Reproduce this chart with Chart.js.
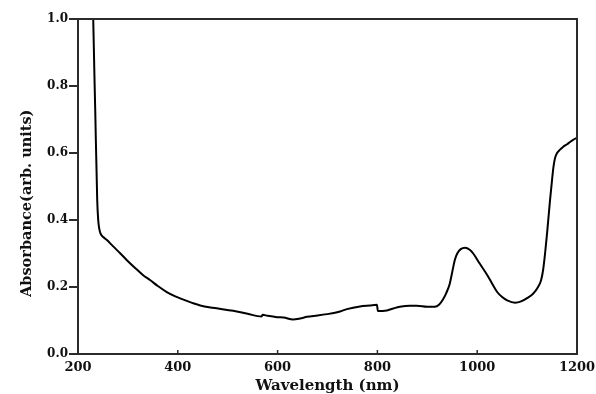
<!DOCTYPE html>
<html>
<head>
<meta charset="utf-8">
<script src="https://cdn.jsdelivr.net/npm/chart.js@4.4.0/dist/chart.umd.min.js"></script>
<style>
  html, body { margin: 0; padding: 0; background: #fff; }
  #wrap { width: 596px; height: 394px; }
</style>
</head>
<body>
<div id="wrap"><canvas id="absChart"></canvas></div>
<script>
// UV-Vis-NIR absorbance spectrum
const wavelengths = [
    229.5, 230.5, 234.5, 238.5, 240.5, 242.5, 245, 250, 258, 270,
    285, 298, 315, 330, 345, 360, 378, 395, 410, 430,
    445, 470, 511, 540, 568, 570, 580, 599, 612, 631,
    645, 659, 680, 699, 715, 725, 739, 765, 785, 799,
    801, 819, 832, 845, 865, 879, 900, 915, 924, 931,
    938, 945, 950, 955, 960, 967, 976, 985, 992, 1005,
    1020, 1030, 1040, 1050, 1060, 1076, 1088, 1100, 1112, 1122,
    1128, 1132, 1136, 1140, 1146, 1150, 1153, 1156, 1160, 1166,
    1172, 1180, 1186, 1193, 1200
];
const absorbance = [
    1.10, 1.00, 0.73, 0.46, 0.40, 0.375, 0.36, 0.35, 0.34, 0.322,
    0.30, 0.28, 0.256, 0.236, 0.22, 0.203, 0.185, 0.172, 0.163, 0.152,
    0.145, 0.138, 0.129, 0.120, 0.112, 0.117, 0.114, 0.110, 0.109, 0.103,
    0.106, 0.111, 0.115, 0.119, 0.123, 0.127, 0.134, 0.142, 0.145, 0.147,
    0.128, 0.130, 0.136, 0.141, 0.144, 0.144, 0.141, 0.141, 0.148, 0.162,
    0.182, 0.21, 0.245, 0.28, 0.30, 0.313, 0.317, 0.311, 0.300, 0.27,
    0.236, 0.21, 0.185, 0.17, 0.160, 0.153, 0.157, 0.167, 0.18, 0.20,
    0.22, 0.25, 0.30, 0.36, 0.46, 0.52, 0.56, 0.585, 0.60, 0.61,
    0.618, 0.626, 0.633, 0.640, 0.645
];
const xTicks = [200, 400, 600, 800, 1000, 1200];
const yTicks = [0.0, 0.2, 0.4, 0.6, 0.8, 1.0];
const yTitle = 'Absorbance(arb. units)';

const axisColor = '#2b2b2b';
const serif = "'DejaVu Serif', serif";

// frame round the plot, short inward ticks on the x axis, rotated y title
const framePlugin = {
    id: 'frame',
    afterDraw(chart) {
        const { ctx, chartArea: a, scales } = chart;
        ctx.save();
        ctx.strokeStyle = axisColor;
        ctx.lineWidth = 2;
        ctx.beginPath();
        ctx.moveTo(a.left, a.top);
        ctx.lineTo(a.right, a.top);
        ctx.lineTo(a.right, a.bottom);
        ctx.stroke();
        ctx.lineWidth = 1.5;
        xTicks.forEach(v => {
            const px = scales.x.getPixelForValue(v);
            if (px <= a.left + 1 || px >= a.right - 1) return;
            ctx.beginPath();
            ctx.moveTo(px, a.bottom);
            ctx.lineTo(px, a.bottom - 4);
            ctx.stroke();
        });

        ctx.translate(27, scales.y.getPixelForValue(0.45));
        ctx.rotate(-Math.PI / 2);
        ctx.fillStyle = '#111';
        ctx.font = "bold 14.5px " + serif;
        ctx.textAlign = 'center';
        ctx.textBaseline = 'middle';
        ctx.fillText(yTitle, 0, 0);
        ctx.restore();
    }
};

new Chart(document.getElementById('absChart'), {
    type: 'line',
    data: {
        datasets: [{
            data: wavelengths.map((w, i) => ({ x: w, y: absorbance[i] })),
            borderColor: '#000',
            borderWidth: 2,
            pointRadius: 0,
            cubicInterpolationMode: 'monotone',
            fill: false
        }]
    },
    options: {
        responsive: true,
        maintainAspectRatio: false,
        animation: false,
        layout: { padding: { top: 19, right: 19, left: 0, bottom: 0 } },
        plugins: {
            legend: { display: false },
            tooltip: { enabled: false }
        },
        scales: {
            x: {
                type: 'linear',
                min: 200,
                max: 1200,
                afterFit: s => {
                    s.height = 40;
                    s.paddingLeft = 0;
                    s.paddingRight = 0;
                },
                afterBuildTicks: s => { s.ticks = xTicks.map(v => ({ value: v })); },
                border: { color: axisColor, width: 2 },
                grid: { display: true, drawOnChartArea: false, drawTicks: false },
                ticks: {
                    color: '#111',
                    padding: 6,
                    maxRotation: 0,
                    font: { family: serif, size: 13, weight: 'bold' },
                    callback: v => String(v)
                },
                title: {
                    display: true,
                    text: 'Wavelength (nm)',
                    color: '#111',
                    padding: 0,
                    font: { family: serif, size: 15, weight: 'bold', lineHeight: 1 }
                }
            },
            y: {
                min: 0,
                max: 1,
                afterFit: s => { s.width = 78; },
                afterBuildTicks: s => { s.ticks = yTicks.map(v => ({ value: v })); },
                border: { color: axisColor, width: 2 },
                grid: {
                    drawOnChartArea: false,
                    drawTicks: true,
                    tickLength: 9,
                    color: axisColor,
                    lineWidth: 2
                },
                ticks: {
                    color: '#111',
                    padding: 1,
                    font: { family: serif, size: 12, weight: 'bold' },
                    callback: v => v.toFixed(1)
                }
            }
        }
    },
    plugins: [framePlugin]
});
</script>
</body>
</html>
